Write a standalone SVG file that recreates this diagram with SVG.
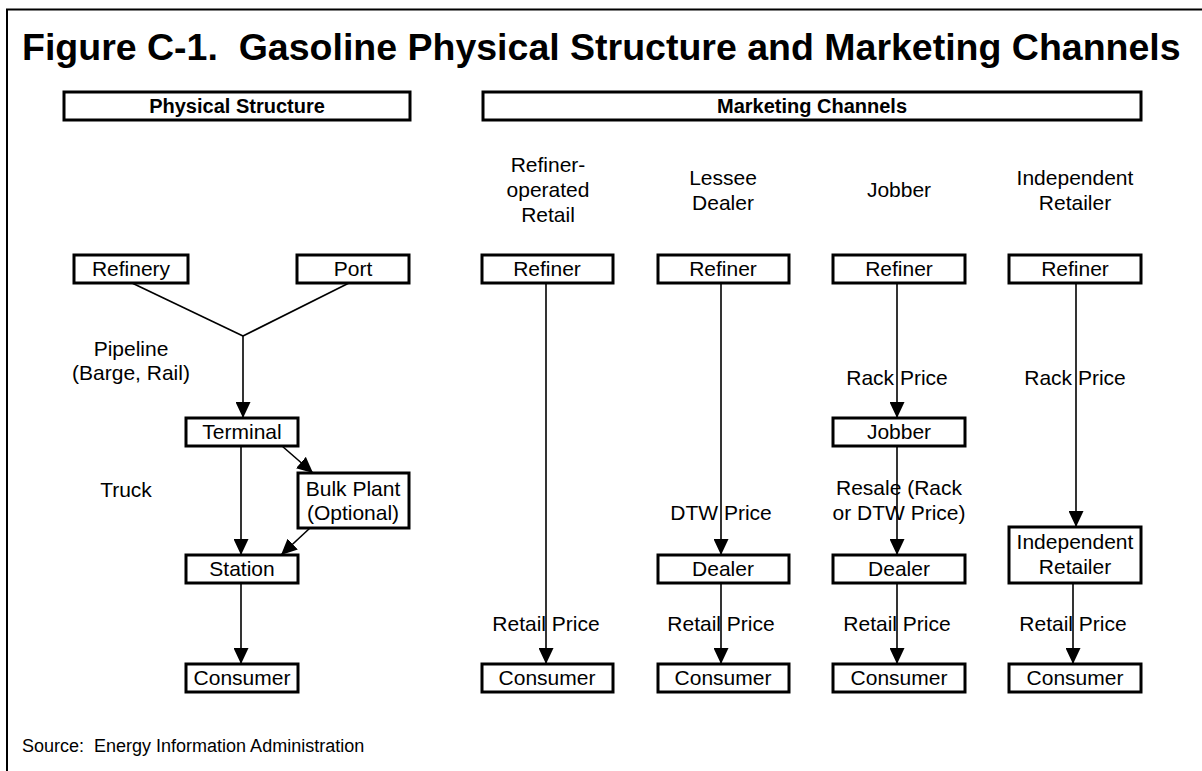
<svg xmlns="http://www.w3.org/2000/svg" width="1202" height="771" viewBox="0 0 1202 771">
  <style>
    .frame { fill: none; stroke: #000; stroke-width: 2; }
    .box { fill: #fff; stroke: #000; stroke-width: 3; }
    .hdr { fill: #fff; stroke: #000; stroke-width: 3; }
    .lbl { font-family: "Liberation Sans", Arial, sans-serif; font-size: 21px; fill: #000; text-anchor: middle; }
    .hdrtxt { font-family: "Liberation Sans", Arial, sans-serif; font-size: 20px; font-weight: bold; fill: #000; text-anchor: middle; }
    .title { font-family: "Liberation Sans", Arial, sans-serif; font-size: 37.5px; font-weight: bold; fill: #000; }
    .src { font-family: "Liberation Sans", Arial, sans-serif; font-size: 18px; fill: #000; }
    .wire { fill: none; stroke: #000; stroke-width: 1.6; }
  </style>
  <defs>
    <marker id="arrow" markerUnits="userSpaceOnUse" markerWidth="16" markerHeight="15" refX="16" refY="7.5" orient="auto">
      <path d="M0,0 L16,7.5 L0,15 z" fill="#000"/>
    </marker>
  </defs>

  <rect width="1202" height="771" fill="#fff"/>
  <rect class="frame" x="7" y="9.5" width="1220" height="790"/>

  <text class="title" x="22" y="60" xml:space="preserve">Figure C-1.  Gasoline Physical Structure and Marketing Channels</text>

  <!-- section headers -->
  <g id="hdr-physical">
    <rect class="hdr" x="64" y="92" width="346" height="28"/>
    <text class="hdrtxt" x="237" y="113">Physical Structure</text>
  </g>
  <g id="hdr-marketing">
    <rect class="hdr" x="483" y="92" width="658" height="28"/>
    <text class="hdrtxt" x="812" y="113">Marketing Channels</text>
  </g>

  <!-- channel column headings -->
  <g id="col-headings">
    <text class="lbl" x="548" y="172">Refiner-</text>
    <text class="lbl" x="548" y="197">operated</text>
    <text class="lbl" x="548" y="222">Retail</text>
    <text class="lbl" x="723" y="185">Lessee</text>
    <text class="lbl" x="723" y="210">Dealer</text>
    <text class="lbl" x="899" y="197">Jobber</text>
    <text class="lbl" x="1075" y="185">Independent</text>
    <text class="lbl" x="1075" y="210">Retailer</text>
  </g>

  <!-- connectors -->
  <g id="connectors" class="wire">
    <!-- physical structure -->
    <line x1="132" y1="283" x2="243" y2="336"/>
    <line x1="349" y1="283" x2="243" y2="336"/>
    <line x1="243" y1="336" x2="243" y2="418" marker-end="url(#arrow)"/>
    <line x1="241" y1="446" x2="241" y2="555" marker-end="url(#arrow)"/>
    <line x1="282" y1="446" x2="313" y2="473" marker-end="url(#arrow)"/>
    <line x1="310" y1="528" x2="281" y2="555" marker-end="url(#arrow)"/>
    <line x1="241" y1="583" x2="241" y2="664" marker-end="url(#arrow)"/>
    <!-- refiner-operated retail -->
    <line x1="546" y1="283" x2="546" y2="664" marker-end="url(#arrow)"/>
    <!-- lessee dealer -->
    <line x1="721" y1="283" x2="721" y2="555" marker-end="url(#arrow)"/>
    <line x1="721" y1="583" x2="721" y2="664" marker-end="url(#arrow)"/>
    <!-- jobber -->
    <line x1="897" y1="283" x2="897" y2="418" marker-end="url(#arrow)"/>
    <line x1="897" y1="446" x2="897" y2="555" marker-end="url(#arrow)"/>
    <line x1="897" y1="583" x2="897" y2="664" marker-end="url(#arrow)"/>
    <!-- independent retailer -->
    <line x1="1076" y1="283" x2="1076" y2="527" marker-end="url(#arrow)"/>
    <line x1="1073" y1="583" x2="1073" y2="664" marker-end="url(#arrow)"/>
  </g>

  <!-- connector labels -->
  <g id="flow-labels">
    <text class="lbl" x="131" y="356">Pipeline</text>
    <text class="lbl" x="131" y="380">(Barge, Rail)</text>
    <text class="lbl" x="126" y="497">Truck</text>
    <text class="lbl" x="897" y="385">Rack Price</text>
    <text class="lbl" x="1075" y="385">Rack Price</text>
    <text class="lbl" x="721" y="520">DTW Price</text>
    <text class="lbl" x="899" y="495">Resale (Rack</text>
    <text class="lbl" x="899" y="520">or DTW Price)</text>
    <text class="lbl" x="546" y="631">Retail Price</text>
    <text class="lbl" x="721" y="631">Retail Price</text>
    <text class="lbl" x="897" y="631">Retail Price</text>
    <text class="lbl" x="1073" y="631">Retail Price</text>
  </g>

  <!-- physical structure nodes -->
  <g id="refinery"><rect class="box" x="74" y="255" width="114" height="28"/><text class="lbl" x="131" y="276">Refinery</text></g>
  <g id="port"><rect class="box" x="297" y="255" width="112" height="28"/><text class="lbl" x="353" y="276">Port</text></g>
  <g id="terminal"><rect class="box" x="186" y="418" width="112" height="28"/><text class="lbl" x="242" y="439">Terminal</text></g>
  <g id="bulk-plant"><rect class="box" x="298" y="473" width="111" height="55"/><text class="lbl" x="353" y="496">Bulk Plant</text><text class="lbl" x="353" y="520">(Optional)</text></g>
  <g id="station"><rect class="box" x="186" y="555" width="112" height="28"/><text class="lbl" x="242" y="576">Station</text></g>
  <g id="consumer-phys"><rect class="box" x="186" y="664" width="112" height="28"/><text class="lbl" x="242" y="685">Consumer</text></g>

  <!-- refiner-operated retail -->
  <g id="refiner-1"><rect class="box" x="482" y="255" width="131" height="28"/><text class="lbl" x="547" y="276">Refiner</text></g>
  <g id="consumer-1"><rect class="box" x="482" y="664" width="131" height="28"/><text class="lbl" x="547" y="685">Consumer</text></g>

  <!-- lessee dealer -->
  <g id="refiner-2"><rect class="box" x="658" y="255" width="131" height="28"/><text class="lbl" x="723" y="276">Refiner</text></g>
  <g id="dealer-2"><rect class="box" x="658" y="555" width="131" height="28"/><text class="lbl" x="723" y="576">Dealer</text></g>
  <g id="consumer-2"><rect class="box" x="658" y="664" width="131" height="28"/><text class="lbl" x="723" y="685">Consumer</text></g>

  <!-- jobber -->
  <g id="refiner-3"><rect class="box" x="833" y="255" width="132" height="28"/><text class="lbl" x="899" y="276">Refiner</text></g>
  <g id="jobber-3"><rect class="box" x="833" y="418" width="132" height="28"/><text class="lbl" x="899" y="439">Jobber</text></g>
  <g id="dealer-3"><rect class="box" x="833" y="555" width="132" height="28"/><text class="lbl" x="899" y="576">Dealer</text></g>
  <g id="consumer-3"><rect class="box" x="833" y="664" width="132" height="28"/><text class="lbl" x="899" y="685">Consumer</text></g>

  <!-- independent retailer -->
  <g id="refiner-4"><rect class="box" x="1009" y="255" width="132" height="28"/><text class="lbl" x="1075" y="276">Refiner</text></g>
  <g id="retailer-4"><rect class="box" x="1009" y="527" width="132" height="56"/><text class="lbl" x="1075" y="549">Independent</text><text class="lbl" x="1075" y="574">Retailer</text></g>
  <g id="consumer-4"><rect class="box" x="1009" y="664" width="132" height="28"/><text class="lbl" x="1075" y="685">Consumer</text></g>

  <text class="src" x="22" y="752" xml:space="preserve">Source:  Energy Information Administration</text>
</svg>
